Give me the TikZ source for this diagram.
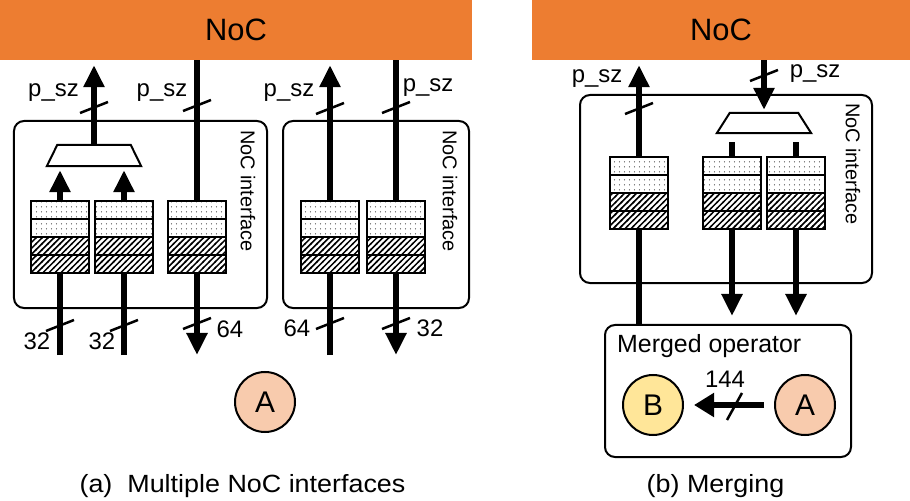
\documentclass[tikz,border=0pt]{standalone}
\usepackage{fontspec}
\setmainfont{Liberation Sans}
\usetikzlibrary{arrows.meta,calc,patterns}

\definecolor{nocorange}{HTML}{ED7D31}
\definecolor{oppeach}{HTML}{F8CBAD}
\definecolor{opyellow}{HTML}{FFE699}

% fill patterns of the FIFO slots
\pgfdeclarepatternformonly{fifohatch}{\pgfpoint{-1pt}{-1pt}}{\pgfpoint{7pt}{7pt}}{\pgfpoint{6pt}{6pt}}{%
  \pgfsetlinewidth{1.5pt}%
  \pgfpathmoveto{\pgfpoint{-1pt}{-1pt}}\pgfpathlineto{\pgfpoint{7pt}{7pt}}\pgfusepath{stroke}}
\pgfdeclarepatternformonly{fifodots}{\pgfpointorigin}{\pgfpoint{5pt}{4.5pt}}{\pgfpoint{5pt}{4.5pt}}{%
  \pgfpathcircle{\pgfpoint{2.5pt}{2.25pt}}{0.55pt}\pgfusepath{fill}}

\tikzset{
  bus/.style={line width=6bp, -{Triangle[length=22bp,width=20bp]}},
  wire/.style={line width=6bp},
  slash/.style={line width=2.5bp},
  frame/.style={draw, line width=2bp, rounded corners=10bp, inner sep=0},
  nocbar/.style={fill=nocorange, inner sep=0, minimum height=60bp,
                 font=\fontsize{31}{31}\selectfont},
  lbl/.style={inner sep=0, anchor=base, font=\fontsize{24}{24}\selectfont},
  side/.style={inner sep=0, rotate=-90, font=\fontsize{20}{20}\selectfont},
  opnode/.style={circle, draw, line width=2bp, minimum size=60bp, inner sep=0,
             font=\fontsize{30}{30}\selectfont},
  captext/.style={inner sep=0, anchor=base, xscale=1.08, font=\fontsize{25}{25}\selectfont},
  muxbox/.style={inner sep=0, minimum height=21bp},
}

% FIFO buffer: four slots, two dotted above two hatched
\newcommand\fifo[3]{%
  \begin{scope}[shift={(#2,#3)}]
    \foreach \t/\p in {-36/fifodots,-18/fifodots,0/fifohatch,18/fifohatch}{
      \fill[white] (-29,\t) rectangle (29,\t+18);
      \path[pattern=\p, draw, line width=2.2bp] (-29,\t) rectangle (29,\t+18);
    }
    \node[inner sep=0, minimum width=58bp, minimum height=72bp] (#1) at (0,0) {};
  \end{scope}}

% width mark on a vertical bus
\newcommand\tick[1]{\draw[slash] ($(#1)+(-14,6)$) -- ($(#1)+(14,-5)$);}

% arbiter / distributor outline
\newcommand\muxshape[2]{%
  \draw[line width=2bp, fill=white] (#1.south west) -- (#1.south east)
    -- ([xshift=-#2]#1.north east) -- ([xshift=#2]#1.north west) -- cycle;}

\begin{document}
\begin{tikzpicture}[x=1bp, y=-1bp]
\useasboundingbox (0,0) rectangle (910,501);

% ---------- (a) multiple NoC interfaces ----------
\node[nocbar, minimum width=472bp] (nocA) at (236,30) {NoC};
\node[frame, minimum width=253bp, minimum height=187bp] (ifA1) at (140.5,214.5) {};
\node[frame, minimum width=186bp, minimum height=187bp] (ifA2) at (376,214.5) {};
\node[side] at (248,191) {NoC interface};
\node[side] at (450,191) {NoC interface};

\coordinate (inA1) at (60,355);
\coordinate (inA2) at (124,355);
\coordinate (outA3) at (197,355);
\coordinate (inA4) at (330,355);
\coordinate (outA5) at (396,355);

\node[muxbox, minimum width=94bp] (muxA) at (94,155.5) {};

% buses (drawn below the buffers)
\draw[wire] (inA1) -- (60,237);
\draw[wire] (inA2) -- (124,237);
\draw[bus] (nocA.south -| outA3) -- (outA3);
\draw[bus, shorten >=5bp] (inA4) -- (nocA.south -| inA4);
\draw[bus] (nocA.south -| outA5) -- (outA5);
\draw[bus, shorten >=5bp] (muxA.north) -- (nocA.south -| muxA.north);

\fifo{bufA1}{60}{237}
\fifo{bufA2}{124}{237}
\fifo{bufA3}{197}{237}
\fifo{bufA4}{330}{237}
\fifo{bufA5}{396}{237}

\draw[bus, shorten >=4bp] (bufA1.north) -- (bufA1.north |- muxA.south);
\draw[bus, shorten >=4bp] (bufA2.north) -- (bufA2.north |- muxA.south);
\muxshape{muxA}{10.5bp}

\tick{94,107}
\tick{197,105}
\tick{330,108}
\tick{396,107}
\tick{60,325}
\tick{124,325}
\tick{197,323}
\tick{330,323}
\tick{396,323}

\node[lbl] at (53.5,97) {p\_sz};
\node[lbl] at (162,97) {p\_sz};
\node[lbl] at (289,97) {p\_sz};
\node[lbl] at (428,92) {p\_sz};
\node[lbl] at (37,350) {32};
\node[lbl] at (102,350) {32};
\node[lbl] at (230,338) {64};
\node[lbl] at (297,337) {64};
\node[lbl] at (430,337) {32};

\node[opnode, fill=oppeach] (opA) at (265,402) {A};

\node[captext] at (242.5,492) {(a)\ \ Multiple NoC interfaces};

% ---------- (b) merging ----------
\node[nocbar, minimum width=378bp] (nocB) at (721,30) {NoC};
\node[frame, minimum width=292bp, minimum height=188bp] (ifB) at (726,189) {};
\node[side] at (853,164) {NoC interface};
\node[frame, minimum width=246bp, minimum height=132bp] (mop) at (728,391) {};

\node[muxbox, minimum width=94bp, minimum height=20bp] (muxB) at (764,123) {};

\coordinate (colB1) at (639,193);
\draw[bus, shorten >=5bp] (mop.north -| colB1) -- (nocB.south -| colB1);

\fifo{bufB1}{639}{193}
\fifo{bufB2}{732}{193}
\fifo{bufB3}{796}{193}

\draw[bus, shorten >=3bp] (nocB.south -| muxB) -- (muxB.north);
\muxshape{muxB}{13bp}
\draw[wire, shorten <=9bp] (muxB.south -| bufB2) -- (bufB2.north);
\draw[wire, shorten <=9bp] (muxB.south -| bufB3) -- (bufB3.north);
\draw[bus, shorten >=8bp] (bufB2.south) -- (mop.north -| bufB2);
\draw[bus, shorten >=8bp] (bufB3.south) -- (mop.north -| bufB3);

\tick{639,108}
\tick{764,75}
\node[lbl] at (597,83) {p\_sz};
\node[lbl] at (815,78) {p\_sz};

\node[inner sep=0, anchor=base west, font=\fontsize{25}{25}\selectfont] at (617,353) {Merged operator};
\node[opnode, fill=opyellow] (opB) at (653,405) {B};
\node[opnode, fill=oppeach] (opAm) at (805,405) {A};
\draw[line width=6bp, -{Triangle[length=20bp,width=23bp]}, shorten >=10bp, shorten <=10bp] (opAm.west) -- (opB.east);
\draw[slash] (727,420) -- (742,393);
\node[lbl] at (725,387) {144};

\node[captext] at (715.5,492) {(b) Merging};
\end{tikzpicture}
\end{document}
